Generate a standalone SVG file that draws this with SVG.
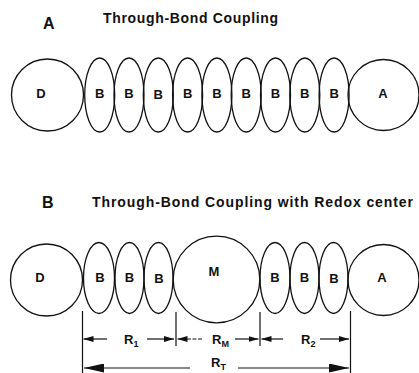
<svg xmlns="http://www.w3.org/2000/svg" width="419" height="373" viewBox="0 0 419 373">
<style>
.s{fill:none;stroke:#111;stroke-width:1.3}
.t{font-family:"Liberation Sans",Arial,sans-serif;font-weight:bold;fill:#111}
.lbl{font-size:13px;text-anchor:middle}
.ttl{font-size:14px}
.big{font-size:16px}
.dim{stroke:#111;stroke-width:1.2;fill:none}
.sub{font-size:9px}
</style>
<defs>
<marker id="ah" viewBox="0 0 10 6" refX="10" refY="3" markerWidth="10" markerHeight="6" markerUnits="userSpaceOnUse" orient="auto-start-reverse"><path d="M0,0 L10,3 L0,6 Z" fill="#111"/></marker>
<marker id="ahL" viewBox="0 0 20 9" refX="20" refY="4.5" markerWidth="20" markerHeight="9" markerUnits="userSpaceOnUse" orient="auto-start-reverse"><path d="M0,0 L20,4.5 L0,9 Z" fill="#111"/></marker>
</defs>
<rect width="419" height="373" fill="#fff"/>

<g id="titles">
<text class="t big" x="43" y="28.5">A</text>
<text class="t ttl" x="103" y="23" textLength="175" lengthAdjust="spacing">Through-Bond Coupling</text>
<text class="t big" x="42" y="207.5">B</text>
<text class="t ttl" x="92" y="207" textLength="321" lengthAdjust="spacing">Through-Bond Coupling with Redox center</text>
</g>

<g id="panelA">
<g id="A-D"><circle class="s" cx="47.5" cy="95" r="36"/><text class="t lbl" x="41" y="98">D</text></g>
<g id="A-B1"><ellipse class="s" cx="99.7" cy="95" rx="15" ry="37"/><text class="t lbl" x="99.7" y="98">B</text></g>
<g id="A-B2"><ellipse class="s" cx="129" cy="95" rx="15" ry="37"/><text class="t lbl" x="129" y="98">B</text></g>
<g id="A-B3"><ellipse class="s" cx="158.3" cy="95" rx="15" ry="37"/><text class="t lbl" x="158.3" y="99">B</text></g>
<g id="A-B4"><ellipse class="s" cx="187.6" cy="95" rx="15" ry="37"/><text class="t lbl" x="187.6" y="98">B</text></g>
<g id="A-B5"><ellipse class="s" cx="216.9" cy="95" rx="15" ry="37"/><text class="t lbl" x="216.9" y="98">B</text></g>
<g id="A-B6"><ellipse class="s" cx="246.2" cy="95" rx="15" ry="37"/><text class="t lbl" x="246.2" y="98">B</text></g>
<g id="A-B7"><ellipse class="s" cx="275.5" cy="95" rx="15" ry="37"/><text class="t lbl" x="275.5" y="98">B</text></g>
<g id="A-B8"><ellipse class="s" cx="304.8" cy="95" rx="15" ry="37"/><text class="t lbl" x="304.8" y="98">B</text></g>
<g id="A-B9"><ellipse class="s" cx="334.1" cy="95" rx="15" ry="37"/><text class="t lbl" x="334.1" y="98">B</text></g>
<g id="A-A"><circle class="s" cx="383.5" cy="95" r="35.5"/><text class="t lbl" x="383" y="98">A</text></g>
</g>

<g id="panelB">
<g id="B-D"><circle class="s" cx="46.5" cy="280" r="36"/><text class="t lbl" x="40" y="282">D</text></g>
<g id="B-B1"><ellipse class="s" cx="99" cy="278" rx="15.5" ry="35.5"/><text class="t lbl" x="100" y="282">B</text></g>
<g id="B-B2"><ellipse class="s" cx="129.5" cy="278" rx="14.5" ry="35.5"/><text class="t lbl" x="129.5" y="282">B</text></g>
<g id="B-B3"><ellipse class="s" cx="158.5" cy="278" rx="14.5" ry="35.5"/><text class="t lbl" x="159" y="283">B</text></g>
<g id="B-M"><circle class="s" cx="216.5" cy="279.5" r="43.3"/><text class="t lbl" x="214" y="276">M</text></g>
<g id="B-B4"><ellipse class="s" cx="275" cy="278" rx="15" ry="35.5"/><text class="t lbl" x="275" y="282">B</text></g>
<g id="B-B5"><ellipse class="s" cx="304.5" cy="278" rx="14.5" ry="35.5"/><text class="t lbl" x="304.5" y="282">B</text></g>
<g id="B-B6"><ellipse class="s" cx="333.5" cy="278" rx="14.5" ry="35.5"/><text class="t lbl" x="334" y="283">B</text></g>
<g id="B-A"><circle class="s" cx="383.5" cy="280" r="35.5"/><text class="t lbl" x="382" y="282">A</text></g>
</g>

<g id="connectors">
<line class="dim" x1="82.5" y1="311" x2="82.5" y2="373"/>
<line class="dim" x1="176" y1="312" x2="176" y2="346"/>
<line class="dim" x1="260" y1="312" x2="260" y2="346"/>
<line class="dim" x1="350.5" y1="311" x2="350.5" y2="373"/>
<line class="dim" x1="107" y1="339" x2="83.5" y2="339" marker-end="url(#ah)"/>
<line class="dim" x1="147" y1="339" x2="174" y2="339" marker-end="url(#ah)"/>
<line class="dim" x1="202" y1="339" x2="177.5" y2="339" marker-end="url(#ah)" stroke-dasharray="4 1.5"/>
<line class="dim" x1="235" y1="339" x2="258.5" y2="339" marker-end="url(#ah)"/>
<line class="dim" x1="283" y1="339" x2="261.5" y2="339" marker-end="url(#ah)"/>
<line class="dim" x1="320" y1="339" x2="349" y2="339" marker-end="url(#ah)"/>
<line class="dim" x1="190" y1="368" x2="84" y2="368" marker-end="url(#ahL)"/>
<line class="dim" x1="238" y1="368" x2="349" y2="368" marker-end="url(#ahL)"/>
</g>

<g id="dimension-labels">
<text class="t" font-size="13" x="124" y="344">R<tspan class="sub" dy="3">1</tspan></text>
<text class="t" font-size="13" x="212" y="344">R<tspan class="sub" dy="3">M</tspan></text>
<text class="t" font-size="13" x="301" y="344">R<tspan class="sub" dy="3">2</tspan></text>
<text class="t" font-size="13" x="211" y="367">R<tspan class="sub" dy="2.5">T</tspan></text>
</g>
</svg>
